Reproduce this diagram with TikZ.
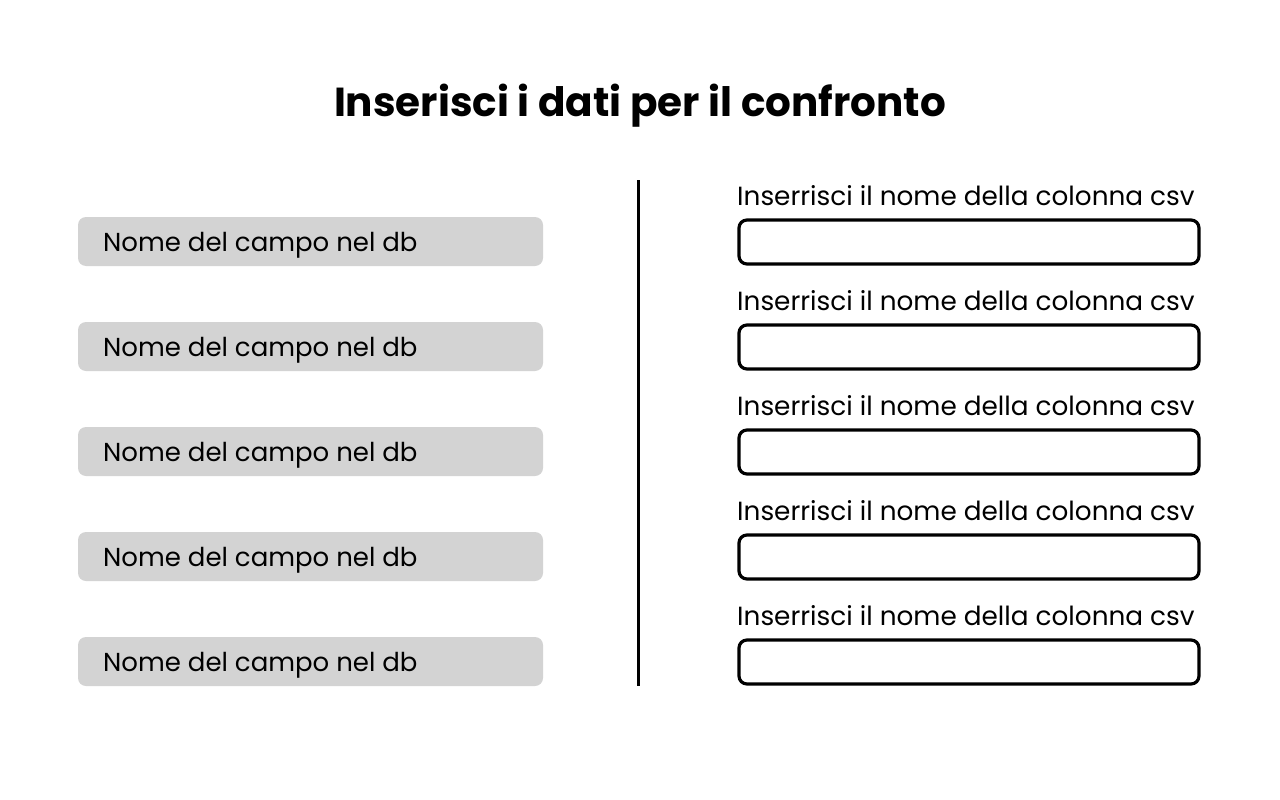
\documentclass[tikz,border=0pt]{standalone}
\usepackage{fontspec}
\setmainfont{Poppins}
\definecolor{boxgray}{HTML}{D3D3D3}
\begin{document}
\begin{tikzpicture}[x=1pt,y=-1pt,
  dbbox/.style={fill=boxgray, rounded corners=8pt, draw=none},
  csvbox/.style={draw=black, line width=3.2pt, rounded corners=8pt, fill=white},
  dbtext/.style={anchor=base west, inner sep=0pt, font=\fontsize{26}{30}\selectfont},
  csvlabel/.style={anchor=base west, inner sep=0pt, font=\fontsize{26.3}{30}\selectfont},
  title/.style={anchor=base, inner sep=0pt, font=\fontsize{40.5}{46}\selectfont\bfseries}]
\useasboundingbox (0,0) rectangle (1280,800);
\node[title] (t) at (640,116) {Inserisci i dati per il confronto};
\coordinate (vtop) at (638,180);
\coordinate (vbot) at (638,686);
\draw[line width=3pt] (vtop) -- (vbot);
\foreach \i in {0,...,4}{
  \pgfmathsetmacro{\yy}{217+105*\i}
  \fill[dbbox] (78,\yy) rectangle (543,\yy+49);
  \node[dbtext] (db\i) at (103,\yy+34) {Nome del campo nel db};
  \node[csvlabel] (lab\i) at (737,\yy-12) {Inserrisci il nome della colonna csv};
  \draw[csvbox] (739,\yy+3) rectangle (1199,\yy+47);
}
\end{tikzpicture}
\end{document}
